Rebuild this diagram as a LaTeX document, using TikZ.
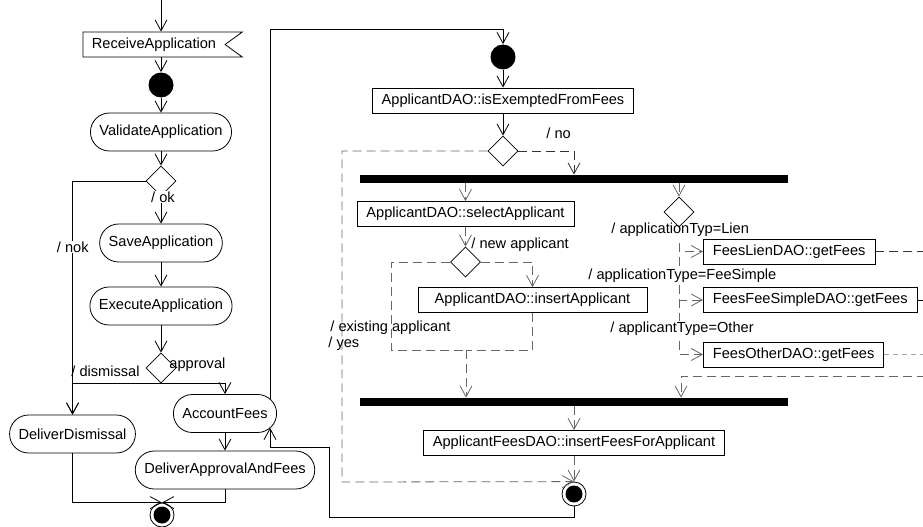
\documentclass[tikz,border=0pt]{standalone}
\usepackage{fontspec}
\setmainfont{Liberation Sans}
\usetikzlibrary{arrows.meta,positioning,shapes.geometric,shapes.symbols}

\begin{document}
\begin{tikzpicture}[x=1pt,y=-1pt,on grid,
    font=\fontsize{14.6pt}{17pt}\selectfont,
    line width=0.8pt,>={Straight Barb[length=11pt,width=12pt]},
    action/.style={draw,rectangle,rounded corners=19pt,minimum height=38pt,inner xsep=9pt,inner ysep=0pt},
    op/.style={draw,rectangle,minimum height=25pt,inner xsep=9.5pt,inner ysep=0pt},
    recvbox/.style={draw,shape=signal,signal from=east,signal to=nowhere,signal pointer angle=72,
        minimum height=25pt,inner xsep=9pt,inner ysep=0pt},
    dec/.style={draw,diamond,aspect=1,minimum size=30pt,inner sep=0pt},
    bar/.style={fill=black,rectangle,minimum width=428pt,minimum height=8pt,inner sep=0pt},
    init/.style={fill=black,circle,minimum size=25pt,inner sep=0pt},
    final/.style={draw,circle,minimum size=24pt,inner sep=0pt,
        path picture={\fill (path picture bounding box.center) circle (8.5pt);}},
    lbl/.style={inner sep=1pt},
    flow/.style={dash pattern=on 9pt off 5pt,draw=black!60},
    faint/.style={dash pattern=on 5pt off 4pt,draw=black!35}]
    \useasboundingbox (0,0) rectangle (923,527);
    \clip (0,0) rectangle (923,527);

    % receiving the application
    \node[recvbox] (recv) at (154,44.5) {ReceiveApplication};
    \node[init] (dot1) at (161,85) {};
    \node[action] (validate) [below=47pt of dot1] {ValidateApplication};
    \node[dec] (okdec) [below=49pt of validate] {};
    \node[action] (save) [below=62pt of okdec] {SaveApplication};
    \node[action] (execute) [below=63pt of save] {ExecuteApplication};
    \node[dec] (appdec) [below=62pt of execute] {};
    \node[action] (dismiss) at (72.5,434) {DeliverDismissal};
    \node[action] (account) at (225,413.5) {AccountFees};
    \node[action] (approve) [below=56.5pt of account] {DeliverApprovalAndFees};
    \node[final] (end1) at (162,515) {};

    % fee accounting
    \node[init] (start2) at (503,57) {};
    \node[op] (exempt) [below=43.5pt of start2] {ApplicantDAO::isExemptedFromFees};
    \node[dec] (exdec) [below=50.5pt of exempt] {};
    \node[bar] (join1) at (574,179) {};
    \node[op] (select) at (465.5,214) {ApplicantDAO::selectApplicant};
    \node[dec] (newdec) [below=48pt of select] {};
    \node[op,minimum width=229pt] (insert) at (532.5,300) {ApplicantDAO::insertApplicant};
    \node[dec] (typdec) at (679,212) {};
    \node[op,anchor=west] (lien) at (703,251.5) {FeesLienDAO::getFees};
    \node[op,anchor=west] (simple) at (703,300) {FeesFeeSimpleDAO::getFees};
    \node[op,anchor=west] (other) at (703,354.5) {FeesOtherDAO::getFees};
    \node[bar] (join2) at (574,402) {};
    \node[op] (feesins) [below=41pt of join2] {ApplicantFeesDAO::insertFeesForApplicant};
    \node[final] (end2) [below=51pt of feesins] {};

    \coordinate (top) at (161,0);
    \coordinate (up) at (270,29);
    \coordinate (back1) at (329,517);
    \coordinate (back2) at (270,447);
    \coordinate (yesturn) at (342,482);
    \coordinate (exturn) at (391,350);
    \coordinate (merge) at (466,350);
    \coordinate (rgt) at (940,376);
    \coordinate (feesmerge) at (681,376);

    \draw[->] (top) -- (top |- recv.north);
    \draw[->] (recv.south -| dot1.north) -- (dot1.north);
    \draw[->] (dot1) -- (validate);
    \draw[->] (validate) -- (okdec);
    \draw[->] (okdec) -- (save);
    \draw[->] (save) -- (execute);
    \draw[->] (execute) -- (appdec);
    \draw[->] (okdec.west) -| (dismiss.north);
    \draw[->] (appdec.south) -| (dismiss.north);
    \draw[->] (appdec.south) -| (account.north);
    \draw[->] (account) -- (approve);
    \draw[->] (dismiss.south) |- (end1.north);
    \draw[->] (approve.south) |- (end1.north);

    \draw[->] ([yshift=-5pt]account.north -| up) -- (up) -| (start2.north);
    \draw[->] (end2.south) |- (back1) |- (back2) -- ([yshift=5pt]account.south -| up);

    \draw[->] (start2) -- (exempt);
    \draw[->] (exempt) -- (exdec);
    \draw[->,flow,draw=black!80] (exdec.east) -| (join1.north);
    \draw[->,flow] (exdec.west) -| (yesturn) -- (end2.north);
    \draw[->,flow] (join1.south -| select.north) -- (select.north);
    \draw[->,flow] (select) -- (newdec);
    \draw[->,flow] (newdec.east) -| (insert.north);
    \draw[flow] (newdec.west) -| (exturn) -- (merge);
    \draw[flow] (insert.south) |- (merge);
    \draw[->,flow] (merge) -- (merge |- join2.north);
    \draw[->,flow] (join1.south -| typdec.north) -- (typdec.north);
    \draw[->,flow,shorten <=16pt] (typdec.south) |- (lien.west);
    \draw[->,flow,shorten <=16pt] (typdec.south) |- (simple.west);
    \draw[->,flow,shorten <=16pt] (typdec.south) |- (other.west);
    \draw[flow,draw=black!80] (lien.east) -- (lien.east -| rgt);
    \draw (simple.east) -- (simple.east -| rgt);
    \draw[faint] (other.east) -- (other.east -| rgt);
    \draw[->,flow] (rgt) -- (feesmerge) -- (feesmerge |- join2.north);
    \draw[->,flow] (join2) -- (feesins);
    \draw[->,flow] (feesins) -- (end2);

    % guards
    \node[lbl,fill=white,anchor=east] at (90,247) {/ nok};
    \node[lbl,fill=white] at (163,197) {/ ok};
    \node[lbl,anchor=west] at (70,371) {/ dismissal};
    \node[lbl,anchor=west] at (168,365) {approval};
    \node[lbl,anchor=west] at (545,133) {/ no};
    \node[lbl,anchor=west] at (470,245) {/ new applicant};
    \node[lbl,anchor=west] at (329,328) {/ existing applicant};
    \node[lbl,anchor=west] at (327,344) {/ yes};
    \node[lbl,anchor=west] at (610,230) {/ applicationTyp=Lien};
    \node[lbl,fill=white,anchor=west] at (587,276) {/ applicationType=FeeSimple};
    \node[lbl,fill=white,anchor=west] at (609,329) {/ applicantType=Other};
\end{tikzpicture}
\end{document}
